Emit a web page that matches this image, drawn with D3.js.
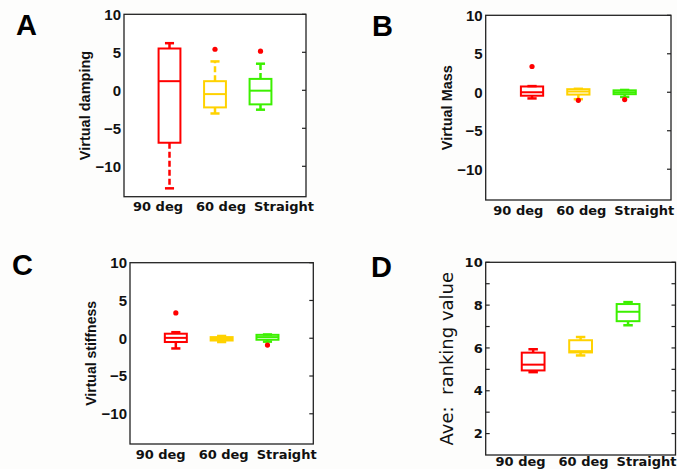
<!DOCTYPE html>
<html><head><meta charset="utf-8">
<script src="https://cdn.jsdelivr.net/npm/d3@7"></script>
<style>body{margin:0;background:#fdfdfc;}svg{display:block;}</style>
</head><body>
<svg id="chart" width="677" height="469"></svg>
<script>
// ---- data ----
const categories = ["90 deg", "60 deg", "Straight"];
const groupColors = ["#ff0000", "#ffd200", "#3cf000"];

// A: Virtual damping
const dampLow  = [-12.9, -3.05, -2.55];
const dampQ1   = [-6.9, -2.25, -1.85];
const dampMed  = [1.2, -0.5, -0.05];
const dampQ3   = [5.5, 1.2, 1.5];
const dampHigh = [6.2, 3.8, 3.5];
const dampOut  = [[], [5.4], [5.15]];

// B: Virtual Mass
const massLow  = [-0.8, -0.9, -0.6];
const massQ1   = [-0.45, -0.3, -0.25];
const massMed  = [0.0, 0.1, 0.0];
const massQ3   = [0.75, 0.4, 0.25];
const massHigh = [0.8, 0.45, 0.3];
const massOut  = [[3.35], [-1.05], [-0.95]];

// C: Virtual stiffness
const stiffLow  = [-1.35, -0.5, -0.45];
const stiffQ1   = [-0.5, -0.3, -0.2];
const stiffMed  = [0.05, -0.1, 0.15];
const stiffQ3   = [0.6, 0.15, 0.45];
const stiffHigh = [0.8, 0.3, 0.5];
const stiffOut  = [[3.35], [], [-0.9]];

// D: Ave. ranking value
const rankLow  = [4.87, 5.65, 7.06];
const rankQ1   = [4.95, 5.79, 7.25];
const rankMed  = [5.22, 5.85, 7.69];
const rankQ3   = [5.78, 6.36, 8.05];
const rankHigh = [5.94, 6.51, 8.14];
const rankOut  = [[], [], []];

const ticksPM = [-10, -5, 0, 5, 10];
const ticksRank = [2, 4, 6, 8, 10];
const minorRank = [3, 5, 7, 9];

function stats(lo, q1, med, q3, hi, out) {
  return categories.map((c, i) => ({cat: c, i, lo: lo[i], q1: q1[i], med: med[i], q3: q3[i], hi: hi[i], out: out[i]}));
}

const panels = [
  {letter: "A", lx: 16, ly: 35, x0: 124, x1: 306, y0: 14.3, y1: 196.7, dom: [-14, 10], ticks: ticksPM, minor: [],
   ylabel: "Virtual damping", yfont: "bold 14.5px 'Liberation Sans', Arial, sans-serif",
   tickFont: "bold 15px 'Liberation Sans', Arial, sans-serif", leftTicks: false, xlabDy: 14, labShift: 6,
   data: stats(dampLow, dampQ1, dampMed, dampQ3, dampHigh, dampOut)},
  {letter: "B", lx: 372, ly: 36, x0: 485.7, x1: 671, y0: 15.3, y1: 200, dom: [-14, 10], ticks: ticksPM, minor: [],
   ylabel: "Virtual Mass", yfont: "bold 14.5px 'Liberation Sans', Arial, sans-serif",
   tickFont: "bold 15px 'Liberation Sans', Arial, sans-serif", leftTicks: false, xlabDy: 15, labShift: 3,
   data: stats(massLow, massQ1, massMed, massQ3, massHigh, massOut)},
  {letter: "C", lx: 12, ly: 275, x0: 130, x1: 313.3, y0: 262.7, y1: 444, dom: [-14, 10], ticks: ticksPM, minor: [],
   ylabel: "Virtual stiffness", yfont: "bold 14px 'Liberation Sans', Arial, sans-serif",
   tickFont: "bold 15px 'Liberation Sans', Arial, sans-serif", leftTicks: false, xlabDy: 15, labShift: 2,
   data: stats(stiffLow, stiffQ1, stiffMed, stiffQ3, stiffHigh, stiffOut)},
  {letter: "D", lx: 371, ly: 277, x0: 485.7, x1: 675.5, y0: 262.3, y1: 455, dom: [1, 10], ticks: ticksRank, minor: minorRank,
   ylabel: "Ave:  ranking value", yfont: "18px 'DejaVu Sans', sans-serif",
   tickFont: "bold 13px 'DejaVu Sans', sans-serif", leftTicks: true, xlabDy: 11, labShift: 3,
   data: stats(rankLow, rankQ1, rankMed, rankQ3, rankHigh, rankOut)}
];

const svg = d3.select("#chart");
const frameColor = "#222";

panels.forEach(p => {
  const g = svg.append("g");
  const x = d3.scaleLinear().domain([0, 4]).range([p.x0, p.x1]);
  const y = d3.scaleLinear().domain(p.dom).range([p.y1, p.y0]);
  const xi = i => x(i + 1);
  const boxW = x(0.48) - x(0);
  const capW = x(0.2) - x(0);

  // panel letter
  g.append("text").attr("x", p.lx).attr("y", p.ly)
    .style("font", "bold 29px 'Liberation Sans', Arial, sans-serif").attr("fill", "#000").text(p.letter);

  // frame
  g.append("rect").attr("x", p.x0).attr("y", p.y0).attr("width", p.x1 - p.x0).attr("height", p.y1 - p.y0)
    .attr("fill", "#fff").attr("stroke", frameColor).attr("stroke-width", 1.3);

  // left axis labels
  const yAxis = d3.axisLeft(y).tickValues(p.ticks).tickSize(0).tickPadding(3);
  const ga = g.append("g").attr("transform", `translate(${p.x0},0)`).call(yAxis);
  ga.select(".domain").remove();
  ga.selectAll("text").style("font", p.tickFont).attr("fill", "#111");

  // inward ticks right (and left for D)
  const tickVals = p.ticks.concat(p.minor);
  g.selectAll(".rt").data(tickVals).join("line")
    .attr("x1", p.x1).attr("x2", p.x1 - 4).attr("y1", d => y(d)).attr("y2", d => y(d))
    .attr("stroke", frameColor).attr("stroke-width", 1.2);
  if (p.leftTicks) {
    g.selectAll(".lt").data(tickVals).join("line")
      .attr("x1", p.x0).attr("x2", p.x0 + 4).attr("y1", d => y(d)).attr("y2", d => y(d))
      .attr("stroke", frameColor).attr("stroke-width", 1.2);
  }

  // y label
  const cy = (p.y0 + p.y1) / 2;
  g.append("text").attr("transform", `translate(${p.x0 - 39},${cy}) rotate(-90)`)
    .attr("text-anchor", "middle").attr("dy", "0.35em").style("white-space", "pre")
    .style("font", p.yfont).attr("fill", "#111").text(p.ylabel);

  // x labels (spread wider than category positions, as in the figure)
  const mid = (p.x0 + p.x1) / 2 + p.labShift;
  const xl = d3.scalePoint().domain(categories).range([mid - 63, mid + 63]);
  g.selectAll(".xl").data(categories).join("text")
    .attr("x", d => xl(d)).attr("y", p.y1 + p.xlabDy).attr("text-anchor", "middle")
    .style("font", "bold 13px 'DejaVu Sans', Verdana, sans-serif").attr("fill", "#111").text(d => d);

  // boxes
  const bg = g.selectAll(".bx").data(p.data).join("g");
  // whiskers (dashed)
  bg.append("line").attr("x1", d => xi(d.i)).attr("x2", d => xi(d.i))
    .attr("y1", d => y(d.q3)).attr("y2", d => y(d.hi))
    .attr("stroke", d => groupColors[d.i]).attr("stroke-width", 2.5).attr("stroke-dasharray", "6,3");
  bg.append("line").attr("x1", d => xi(d.i)).attr("x2", d => xi(d.i))
    .attr("y1", d => y(d.q1)).attr("y2", d => y(d.lo))
    .attr("stroke", d => groupColors[d.i]).attr("stroke-width", 2.5).attr("stroke-dasharray", "6,3");
  // caps
  ["hi", "lo"].forEach(k => {
    bg.append("line").attr("x1", d => xi(d.i) - capW / 2).attr("x2", d => xi(d.i) + capW / 2)
      .attr("y1", d => y(d[k])).attr("y2", d => y(d[k]))
      .attr("stroke", d => groupColors[d.i]).attr("stroke-width", 2.5);
  });
  // box
  bg.append("rect").attr("x", d => xi(d.i) - boxW / 2).attr("width", boxW)
    .attr("y", d => y(d.q3)).attr("height", d => y(d.q1) - y(d.q3))
    .attr("fill", "none").attr("stroke", d => groupColors[d.i]).attr("stroke-width", 2);
  // median
  bg.append("line").attr("x1", d => xi(d.i) - boxW / 2).attr("x2", d => xi(d.i) + boxW / 2)
    .attr("y1", d => y(d.med)).attr("y2", d => y(d.med))
    .attr("stroke", d => groupColors[d.i]).attr("stroke-width", 2);
  // outliers
  bg.selectAll("circle").data(d => d.out.map(v => ({v, i: d.i}))).join("circle")
    .attr("cx", d => xi(d.i)).attr("cy", d => y(d.v)).attr("r", 2.6).attr("fill", "#ff0000");
});
</script>
</body></html>
